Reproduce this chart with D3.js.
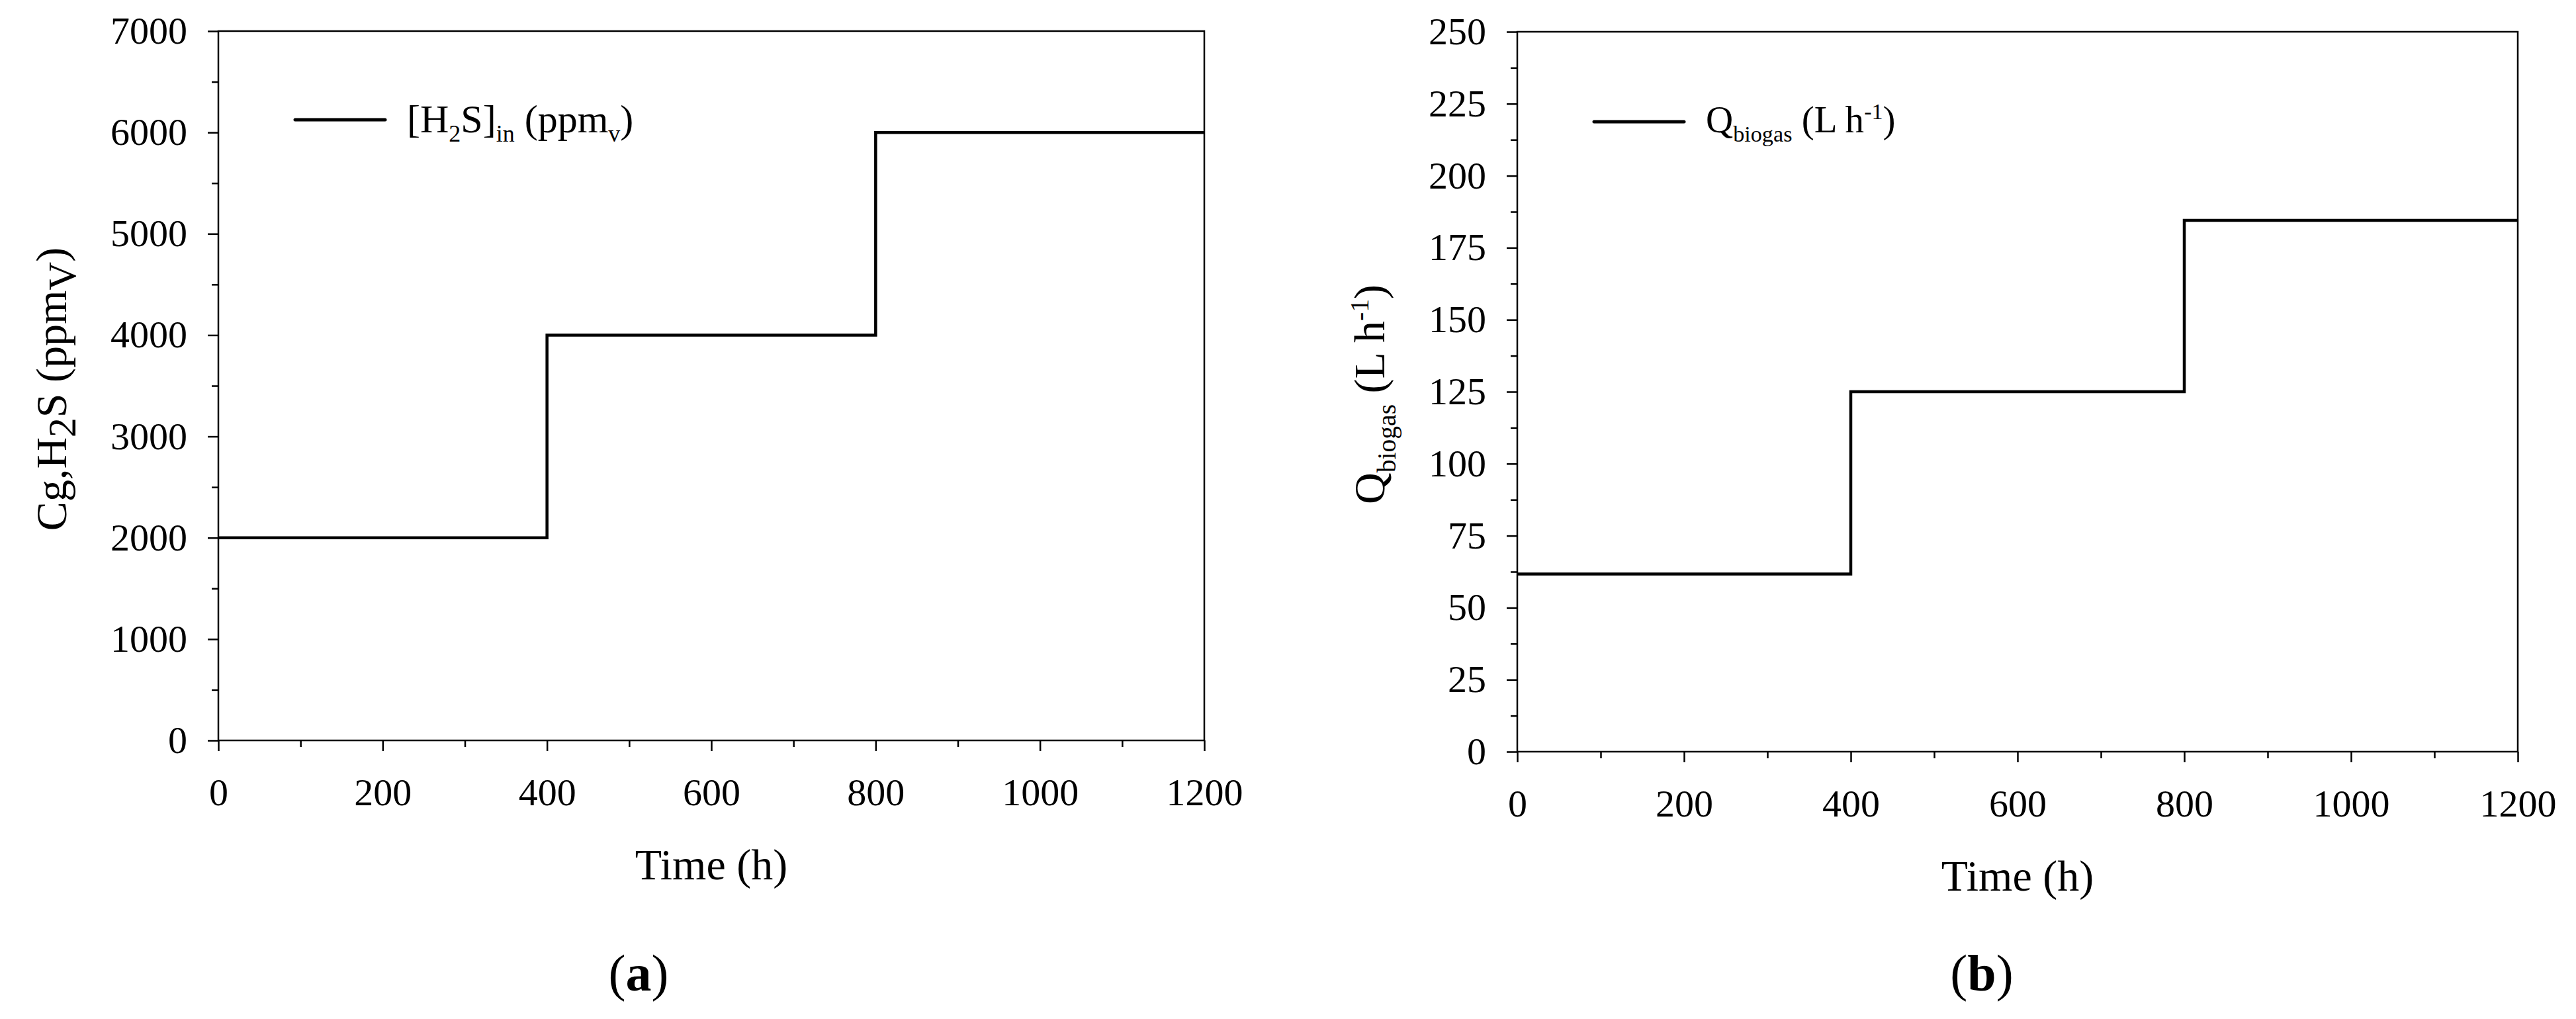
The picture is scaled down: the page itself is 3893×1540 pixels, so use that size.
<!DOCTYPE html>
<html>
<head>
<meta charset="utf-8">
<script src="https://cdn.jsdelivr.net/npm/d3@7"></script>
<style>
  body { margin: 0; background: #fff; }
  text { font-family: "Liberation Serif", "Times New Roman", serif; fill: #000; }
</style>
</head>
<body>
<div id="chart"></div>
<script>
var svgWidth = 3893;
var svgHeight = 1540;

// step inputs: value holds from each time until the next one
var stepTimes = [0, 400, 800, 1200];
var h2sIn = [2000, 4000, 6000, 6000];
var qBiogas = [61.7, 125, 184.5, 184.5];

// tick values
var timeTicks = [0, 200, 400, 600, 800, 1000, 1200];
var timeMinor = [100, 300, 500, 700, 900, 1100];
var h2sTicks = [0, 1000, 2000, 3000, 4000, 5000, 6000, 7000];
var h2sMinor = [500, 1500, 2500, 3500, 4500, 5500, 6500];
var qTicks = [0, 25, 50, 75, 100, 125, 150, 175, 200, 225, 250];
var qMinor = [12.5, 37.5, 62.5, 87.5, 112.5, 137.5, 162.5, 187.5, 212.5, 237.5];

var svg = d3.select("#chart")
  .append("svg")
  .attr("width", svgWidth)
  .attr("height", svgHeight);

// text with sub/superscript pieces: [text, kind] kind = "sub" | "sup" | "b"
function richText(sel, parts, opt) {
  var shift = 0;
  parts.forEach(function(p) {
    var ts = sel.append("tspan").text(p[0]);
    var want = 0;
    if (p[1] === "sub") { want = opt.subDy; ts.attr("font-size", opt.subSize); }
    if (p[1] === "sup") { want = opt.supDy; ts.attr("font-size", opt.subSize); }
    if (p[1] === "b") ts.attr("font-weight", "bold");
    if (p[1] === "bigsub") { want = opt.bigDy; ts.attr("font-size", opt.bigSize); }
    if (want !== shift) ts.attr("dy", want - shift);
    shift = want;
  });
}

var panels = [
  {
    left: 330, right: 1820, top: 47, bottom: 1119,
    values: h2sIn, yMax: 7000, yTicks: h2sTicks, yMinor: h2sMinor,
    yLabelX: 100, yLabelY: 588,
    yLabel: [["Cg,H"], ["2", "bigsub"], ["S (ppm"], ["V", "bigsub"], [")"]],
    legend: [["[H"], ["2", "sub"], ["S]"], ["in", "sub"], [" (ppm"], ["v", "sub"], [")"]],
    legendSize: 60, legendLineY: 181,
    tag: "a", tagX: 965
  },
  {
    left: 2293, right: 3805, top: 48, bottom: 1136,
    values: qBiogas, yMax: 250, yTicks: qTicks, yMinor: qMinor,
    yLabelX: 2092, yLabelY: 596,
    yLabel: [["Q"], ["biogas", "sub"], [" (L h"], ["-1", "sup"], [")"]],
    legend: [["Q"], ["biogas", "sub"], [" (L h"], ["-1", "sup"], [")"]],
    legendSize: 57, legendLineY: 184,
    tag: "b", tagX: 2995
  }
];

panels.forEach(function(p) {
  var g = svg.append("g");

  var xScale = d3.scaleLinear().domain([0, 1200]).range([p.left, p.right]);
  var yScale = d3.scaleLinear().domain([0, p.yMax]).range([p.bottom, p.top]);

  // minor ticks
  g.append("g")
    .attr("transform", `translate(0, ${p.bottom})`)
    .call(d3.axisBottom(xScale).tickValues(timeMinor).tickSize(10).tickFormat(""))
    .call(a => a.select(".domain").remove());
  g.append("g")
    .attr("transform", `translate(${p.left}, 0)`)
    .call(d3.axisLeft(yScale).tickValues(p.yMinor).tickSize(10).tickFormat(""))
    .call(a => a.select(".domain").remove());

  // major ticks + labels
  var xAx = g.append("g")
    .attr("transform", `translate(0, ${p.bottom})`)
    .call(d3.axisBottom(xScale).tickValues(timeTicks).tickSize(16).tickPadding(41).tickFormat(d3.format("d")));
  var yAx = g.append("g")
    .attr("transform", `translate(${p.left}, 0)`)
    .call(d3.axisLeft(yScale).tickValues(p.yTicks).tickSize(16).tickPadding(31).tickFormat(d3.format("d")));

  [xAx, yAx].forEach(function(a) {
    a.attr("font-family", null).attr("font-size", 58);
    a.select(".domain").remove();
    a.selectAll("line").attr("stroke", "#000").attr("stroke-width", 2.5);
  });
  g.selectAll("line").attr("stroke", "#000").attr("stroke-width", 2.5);

  // frame
  g.append("rect")
    .attr("x", p.left)
    .attr("y", p.top)
    .attr("width", p.right - p.left)
    .attr("height", p.bottom - p.top)
    .attr("fill", "none")
    .attr("stroke", "#000")
    .attr("stroke-width", 2.5);

  // step line
  var pts = d3.zip(stepTimes, p.values);
  var line = d3.line()
    .x(d => xScale(d[0]))
    .y(d => yScale(d[1]))
    .curve(d3.curveStepAfter);
  g.append("path")
    .datum(pts)
    .attr("d", line)
    .attr("fill", "none")
    .attr("stroke", "#000")
    .attr("stroke-width", 4.5);

  // legend
  g.append("line")
    .attr("x1", p.left + 116)
    .attr("x2", p.left + 252)
    .attr("y1", p.legendLineY)
    .attr("y2", p.legendLineY)
    .attr("stroke", "#000")
    .attr("stroke-width", 5)
    .attr("stroke-linecap", "round");
  var lt = g.append("text")
    .attr("x", p.left + 285)
    .attr("y", 200)
    .attr("font-size", p.legendSize);
  richText(lt, p.legend, { subSize: "0.6em", subDy: 14, supDy: -20 });

  // axis titles
  g.append("text")
    .attr("x", (p.left + p.right) / 2)
    .attr("y", p.bottom + 210)
    .attr("text-anchor", "middle")
    .attr("font-size", 66)
    .text("Time (h)");

  var yt = g.append("text")
    .attr("transform", `translate(${p.yLabelX}, ${p.yLabelY}) rotate(-90)`)
    .attr("text-anchor", "middle")
    .attr("font-size", 66);
  richText(yt, p.yLabel, { subSize: "0.6em", subDy: 17, supDy: -24, bigSize: "0.9em", bigDy: 14 });

  // panel tag
  var tt = svg.append("text")
    .attr("x", p.tagX)
    .attr("y", 1497)
    .attr("text-anchor", "middle")
    .attr("font-size", 78);
  richText(tt, [["("], [p.tag, "b"], [")"]], {});
});
</script>
</body>
</html>
